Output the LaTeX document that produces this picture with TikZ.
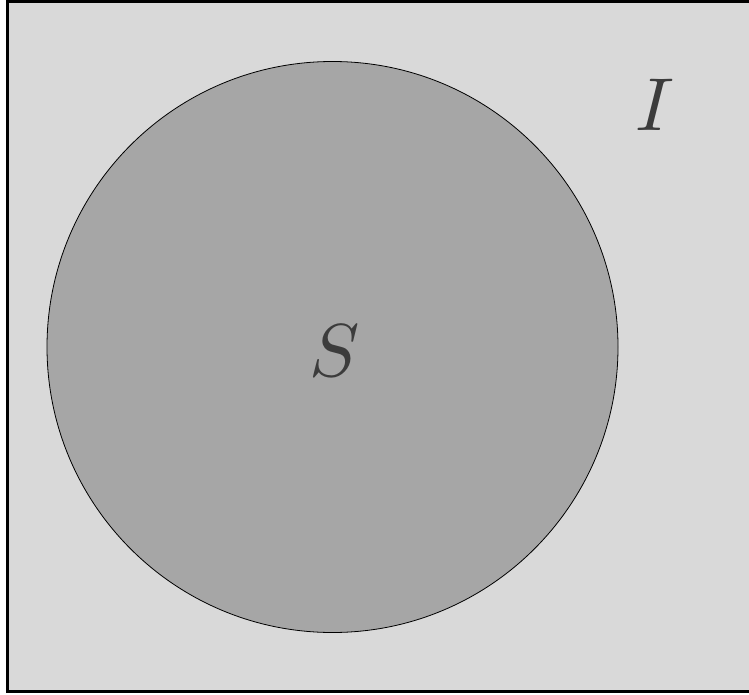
\documentclass[tikz,border=0pt]{standalone}
\usepackage{tikz}
\definecolor{bgfill}{HTML}{D9D9D9}
\definecolor{cfill}{HTML}{A6A6A6}
\definecolor{txt}{HTML}{3C3C3C}
\begin{document}
\begin{tikzpicture}[x=1pt,y=-1pt,
  lbl/.style={text=txt,scale=7.5,inner sep=0pt}]
\useasboundingbox (0,0) rectangle (749,695);
\draw[line width=3pt,fill=bgfill] (7.5,2) rectangle (760,691.5);
\node[draw=black,line width=0.8pt,fill=cfill,circle,minimum size=571pt,inner sep=0pt] (S) at (332.5,347) {};
\node[lbl] (Slbl) at (335,351) {$S$};
\node[lbl] (Ilbl) at (655,105) {$I$};
\end{tikzpicture}
\end{document}
